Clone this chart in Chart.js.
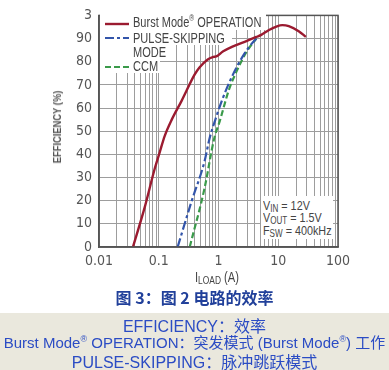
<!DOCTYPE html>
<html>
<head>
<meta charset="utf-8">
<script src="https://cdn.jsdelivr.net/npm/chart.js@4.4.1/dist/chart.umd.min.js"></script>
<style>
  body { margin: 0; background: #fff; width: 389px; height: 370px; overflow: hidden; position: relative; }
  #wrap { position: absolute; left: 0; top: 0; width: 389px; height: 290px; }
  .nar { font-family: 'Liberation Sans', Arial, sans-serif; color: #444; transform-origin: 0 50%; }
  .abs { position: absolute; white-space: nowrap; }
  .wb { position: absolute; background: #fff; }
  sub { font-size: 75%; vertical-align: -2px; line-height: 0; }
  sup { font-size: 60%; vertical-align: 6px; line-height: 0; }
  #cap { left: 0; width: 389px; top: 285px; text-align: center; font: bold 16px 'Noto Sans CJK SC', sans-serif; color: #21409a; }
  #band { left: 0; top: 313px; width: 389px; height: 57px; background: #eae8dd; }
  .bl { position: absolute; left: 0; width: 389px; text-align: center; white-space: nowrap;
        font: 16px 'Liberation Sans', 'Noto Sans CJK SC', sans-serif; color: #2b4cc4; }
  .bl .cj { font-family: 'Noto Sans CJK SC', sans-serif; }
</style>
</head>
<body>
<div id="wrap"><canvas id="grafico" width="389" height="290"></canvas></div>

<!-- legenda dentro do grafico -->
<div class="wb" style="left:100px;top:11px;width:166px;height:19px"></div>
<div class="wb" style="left:100px;top:30px;width:132px;height:15px"></div>
<div class="wb" style="left:100px;top:45px;width:68px;height:14px"></div>
<div class="wb" style="left:100px;top:59px;width:60px;height:14px"></div>
<svg class="abs" style="left:104px;top:18px" width="26" height="54">
  <line x1="1" y1="6" x2="25" y2="6" stroke="#9b1b30" stroke-width="2.4"/>
  <line x1="1" y1="20" x2="25" y2="20" stroke="#3355aa" stroke-width="2.2" stroke-dasharray="9,3,3,3"/>
  <line x1="1" y1="49" x2="25" y2="49" stroke="#3a9a4a" stroke-width="2.2" stroke-dasharray="6,3"/>
</svg>
<div class="abs nar" style="left:133px;top:14px;font-size:14.5px;transform:scaleX(0.76)">Burst Mode<sup>®</sup> OPERATION</div>
<div class="abs nar" style="left:133px;top:30px;font-size:14.5px;transform:scaleX(0.76)">PULSE-SKIPPING</div>
<div class="abs nar" style="left:133px;top:44px;font-size:14.5px;transform:scaleX(0.76)">MODE</div>
<div class="abs nar" style="left:133px;top:58px;font-size:14.5px;transform:scaleX(0.76)">CCM</div>

<!-- condicoes -->
<div class="wb" style="left:261px;top:196px;width:72px;height:43px"></div>
<div class="abs nar" style="left:263px;top:198px;font-size:13.5px;transform:scaleX(0.8)">V<sub>IN</sub> = 12V</div>
<div class="abs nar" style="left:263px;top:210px;font-size:13.5px;transform:scaleX(0.8)">V<sub>OUT</sub> = 1.5V</div>
<div class="abs nar" style="left:263px;top:223px;font-size:13.5px;transform:scaleX(0.8)">F<sub>SW</sub> = 400kHz</div>

<!-- titulos dos eixos -->
<div class="abs nar" style="left:57px;top:127px;transform:translate(-50%,-50%) rotate(-90deg) scaleX(0.85);transform-origin:50% 50%;font-size:11px;font-weight:bold;color:#555">EFFICIENCY (%)</div>
<div class="abs nar" style="left:195px;top:269px;font-size:14px;transform:scaleX(0.8)">I<sub>LOAD</sub> (A)</div>

<div class="abs" id="cap">图 3：图 2 电路的效率</div>
<div class="abs" id="band"></div>
<div class="bl" style="top:313px">EFFICIENCY<span class="cj">：效率</span></div>
<div class="bl" style="top:331px;font-size:15px">Burst Mode<sup>®</sup> OPERATION<span class="cj">：突发模式</span> (Burst Mode<sup>®</sup>) <span class="cj">工作</span></div>
<div class="bl" style="top:349px">PULSE-SKIPPING<span class="cj">：脉冲跳跃模式</span></div>

<script>
//dados do grafico
const burstI   = [0.037, 0.058, 0.086, 0.104, 0.126, 0.165, 0.24, 0.40, 0.48, 0.66, 0.80, 0.92, 1.2, 1.71, 3.0, 4.3, 5.2, 7.0, 9.5, 11.7, 15, 22, 29];
const burstEff = [0, 17, 34, 41, 48, 55, 63, 74.5, 77.5, 81, 82, 82.3, 84.5, 86.5, 89, 90.7, 91.6, 93.7, 95.3, 95.8, 95.4, 93.2, 90.7];

const pulsoI   = [0.207, 0.355, 0.58, 0.71, 0.85, 1.17, 1.71, 2.5, 3.4, 4.3];
const pulsoEff = [0, 19.8, 36.7, 47, 53.6, 64, 74, 82, 87, 90];

const ccmI     = [0.33, 0.58, 0.85, 1.04, 1.5, 1.98, 2.9, 3.6, 4.3];
const ccmEff   = [0, 25, 47, 54, 68, 75.5, 84, 87.5, 90];

const xTickLabels = ['0.01', '0.1', '1', '10', '100'];
const yTickLabels = ['0', '10', '20', '30', '40', '50', '60', '70', '80', '90', '3'];

function pontos(xs, ys) {
    return xs.map((x, i) => ({ x: x, y: ys[i] }));
}

// linhas de grade do eixo log: 1..9 em cada decada
const gradeX = [];
for (let e = -2; e < 2; e++) {
    for (let s = 1; s < 10; s++) gradeX.push(s * Math.pow(10, e));
}
gradeX.push(100);

const fonteEixo = { family: "'DejaVu Sans Condensed', 'Liberation Sans', sans-serif", size: 14 };

const moldura = {
    id: 'moldura',
    afterDraw(chart) {
        const a = chart.chartArea, ctx = chart.ctx;
        ctx.save();
        ctx.strokeStyle = '#555';
        ctx.lineWidth = 1.5;
        ctx.strokeRect(a.left, a.top, a.right - a.left, a.bottom - a.top);
        ctx.restore();
    }
};

const graficoEl = document.getElementById('grafico');
const grafico = new Chart(graficoEl, {
    type: 'line',
    data: {
        datasets: [
            { label: 'Burst Mode OPERATION', data: pontos(burstI, burstEff), borderColor: '#9b1b30', borderWidth: 2.4 },
            { label: 'PULSE-SKIPPING MODE', data: pontos(pulsoI, pulsoEff), borderColor: '#3355aa', borderWidth: 2.2, borderDash: [9, 3, 3, 3] },
            { label: 'CCM', data: pontos(ccmI, ccmEff), borderColor: '#3a9a4a', borderWidth: 2.2, borderDash: [6, 3] }
        ]
    },
    options: {
        responsive: false,
        animation: false,
        layout: { padding: { left: 0, right: 51, top: 10, bottom: 0 } },
        elements: { point: { radius: 0 }, line: { cubicInterpolationMode: 'monotone', fill: false } },
        plugins: { legend: { display: false }, tooltip: { enabled: false } },
        scales: {
            x: {
                type: 'logarithmic', min: 0.01, max: 100,
                afterBuildTicks: (s) => { s.ticks = gradeX.map(v => ({ value: v })); },
                afterFit: (s) => { s.height = 43; },
                ticks: {
                    autoSkip: false, maxRotation: 0, padding: 6, color: '#555', font: fonteEixo,
                    callback: (v) => {
                        const k = Math.log10(v);
                        return Math.abs(k - Math.round(k)) < 1e-6 ? xTickLabels[Math.round(k) + 2] : '';
                    }
                },
                grid: { color: '#9d9d9d', lineWidth: 1, drawTicks: false },
                border: { color: '#555', width: 1.5 }
            },
            y: {
                min: 0, max: 100,
                afterFit: (s) => { s.width = 99; },
                ticks: { stepSize: 10, padding: 7, color: '#555', font: fonteEixo, callback: (v, i) => yTickLabels[i] },
                grid: { color: '#9d9d9d', lineWidth: 1, drawTicks: false },
                border: { color: '#555', width: 1.5 }
            }
        }
    },
    plugins: [moldura]
});
</script>
</body>
</html>
